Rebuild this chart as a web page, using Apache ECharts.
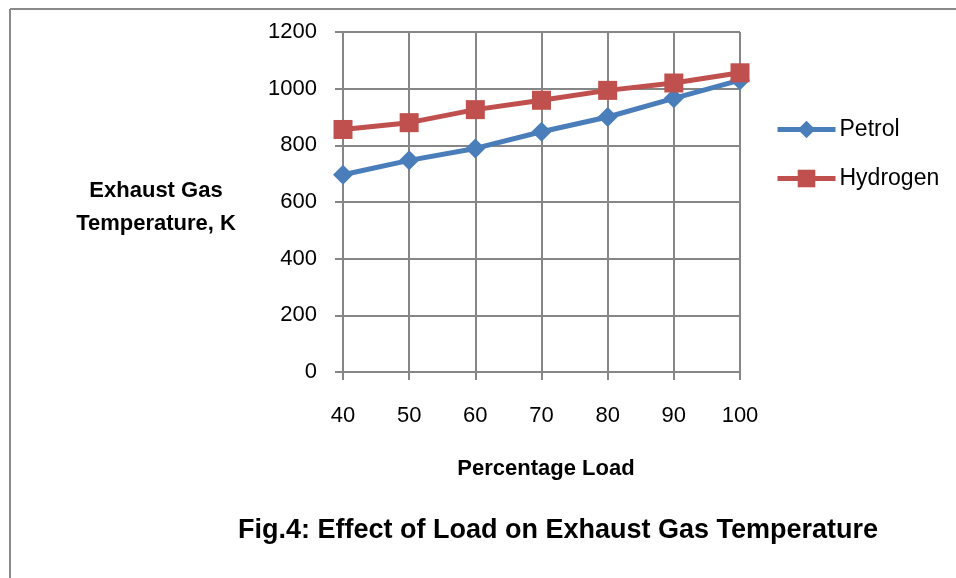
<!DOCTYPE html>
<html><head><meta charset="utf-8">
<script src="https://cdn.jsdelivr.net/npm/echarts@6/dist/echarts.min.js"></script>
<style>html,body{margin:0;padding:0;background:#fff}#c{width:956px;height:578px}</style>
</head><body><div id="c"></div>
<script>
const categories = ['40','50','60','70','80','90','100'];
const petrol = [696, 747, 789, 848, 900, 966, 1030];
const hydrogen = [856, 880, 926, 959, 994, 1020, 1056];
const yTicks = [0, 200, 400, 600, 800, 1000, 1200];
const seriesNames = ['Petrol', 'Hydrogen'];

const FONT = '"Liberation Sans", Arial, sans-serif';
const chart = echarts.init(document.getElementById('c'), null, {renderer: 'canvas'});
chart.setOption({
  animation: false,
  backgroundColor: '#fff',
  textStyle: {fontFamily: FONT},
  title: [
    {text: 'Exhaust Gas\nTemperature, K', left: 151, top: 169, textAlign: 'center',
     textStyle: {fontFamily: FONT, fontWeight: 'bold', fontSize: 22, lineHeight: 33, color: '#000'}},
    {text: 'Percentage Load', left: 541, top: 453, textAlign: 'center',
     textStyle: {fontFamily: FONT, fontWeight: 'bold', fontSize: 22, color: '#000'}},
    {text: 'Fig.4: Effect of Load on Exhaust Gas Temperature', left: 553, top: 512, textAlign: 'center',
     textStyle: {fontFamily: FONT, fontWeight: 'bold', fontSize: 27, color: '#000'}}
  ],
  graphic: [
    {type: 'line', shape: {x1: 10, y1: 9, x2: 956, y2: 9}, style: {stroke: '#8a8a8a', lineWidth: 2}},
    {type: 'line', shape: {x1: 10, y1: 9, x2: 10, y2: 578}, style: {stroke: '#8a8a8a', lineWidth: 2}}
  ],
  legend: {
    orient: 'vertical', left: 770, top: 113, itemGap: 26,
    itemWidth: 58, itemHeight: 22,
    data: seriesNames,
    lineStyle: {width: 5},
    textStyle: {fontFamily: FONT, fontSize: 23, color: '#000', padding: [0,0,0,-1]}
  },
  grid: {left: 343, right: 216, top: 32, bottom: 206, containLabel: false},
  xAxis: {
    type: 'category', data: categories, boundaryGap: false,
    axisLine: {lineStyle: {color: '#868686', width: 2}},
    axisTick: {show: true, length: 8, inside: false, alignWithLabel: true, lineStyle: {color: '#868686', width: 2}},
    axisLabel: {fontFamily: FONT, fontSize: 22, color: '#000', margin: 33},
    splitLine: {show: true, lineStyle: {color: '#868686', width: 2}}
  },
  yAxis: {
    type: 'value', min: yTicks[0], max: yTicks[yTicks.length-1], interval: 200,
    axisLine: {show: true, lineStyle: {color: '#868686', width: 2}},
    axisTick: {show: true, length: 8, lineStyle: {color: '#868686', width: 2}},
    axisLabel: {fontFamily: FONT, fontSize: 22, color: '#000', margin: 26, formatter: v => String(v)},
    splitLine: {show: true, lineStyle: {color: '#868686', width: 2}}
  },
  series: [
    {name: seriesNames[0], type: 'line', data: petrol, symbol: 'diamond', symbolSize: 20,
     lineStyle: {color: '#4a7ebb', width: 5}, itemStyle: {color: '#4a7ebb'}, z: 2},
    {name: seriesNames[1], type: 'line', data: hydrogen, symbol: 'rect', symbolSize: 19,
     lineStyle: {color: '#c0504d', width: 5}, itemStyle: {color: '#c0504d'}, z: 3}
  ]
});
</script></body></html>
